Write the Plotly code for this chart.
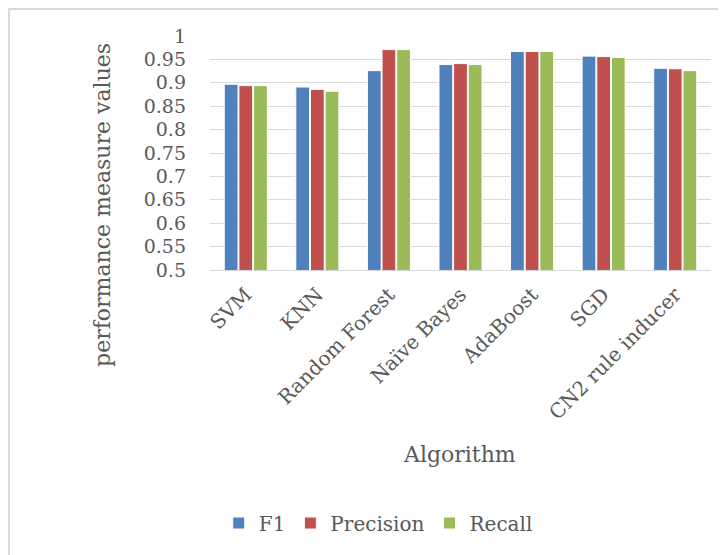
import plotly.graph_objects as go

algorithms = ["SVM", "KNN", "Random Forest", "Naïve Bayes", "AdaBoost", "SGD", "CN2 rule inducer"]
f1 = [0.897, 0.891, 0.926, 0.939, 0.967, 0.957, 0.931]
precision = [0.894, 0.886, 0.971, 0.941, 0.967, 0.956, 0.930]
recall = [0.894, 0.882, 0.971, 0.939, 0.967, 0.954, 0.926]
y_ticks = [0.5, 0.55, 0.6, 0.65, 0.7, 0.75, 0.8, 0.85, 0.9, 0.95, 1]
y_tick_labels = ["0.5", "0.55", "0.6", "0.65", "0.7", "0.75", "0.8", "0.85", "0.9", "0.95", "1"]

FONT = "DejaVu Serif"
TXT = "#595959"

fig = go.Figure()
for name, vals, col in [("F1", f1, "#4F81BD"), ("Precision", precision, "#C0504D"), ("Recall", recall, "#9BBB59")]:
    fig.add_trace(go.Bar(name=name, x=algorithms, y=vals, marker=dict(color=col, line=dict(color="white", width=1))))

fig.update_layout(
    width=726, height=555,
    margin=dict(l=202, r=23, t=28, b=293),
    paper_bgcolor="white", plot_bgcolor="white",
    barmode="group", bargap=0.386, bargroupgap=0.06,
    font=dict(family=FONT, color=TXT, size=19),
    showlegend=True,
    legend=dict(orientation="h", xref="container", yref="container", x=0.51, xanchor="center",
                y=0.072, yanchor="middle", font=dict(size=20, color=TXT, family=FONT)),
    xaxis=dict(tickangle=-45, showgrid=False, showline=True, linecolor="#D9D9D9", linewidth=1,
               automargin=False, ticklabelstandoff=4,
               tickfont=dict(size=20, color=TXT, family=FONT)),
    yaxis=dict(range=[0.5, 1.0], tickvals=y_ticks, ticktext=y_tick_labels, showgrid=True,
               gridcolor="#D9D9D9", gridwidth=1, zeroline=False, ticklabelstandoff=23,
               automargin=False,
               tickfont=dict(size=19, color=TXT, family=FONT)),
    shapes=[dict(type="rect", xref="paper", yref="paper", x0=-0.401, x1=1.1, y0=-1.35, y1=1.115,
                 line=dict(color="#D9D9D9", width=2))],
    annotations=[
        dict(text="performance measure values", xref="paper", yref="paper", x=-0.2136, y=0.278,
             textangle=-90, showarrow=False, xanchor="center", yanchor="middle",
             font=dict(size=22, color=TXT, family=FONT)),
        dict(text="Algorithm", xref="paper", yref="paper", x=0.499, y=-0.79,
             showarrow=False, xanchor="center", yanchor="middle",
             font=dict(size=22, color=TXT, family=FONT)),
    ],
)
fig.write_html("out.html")
